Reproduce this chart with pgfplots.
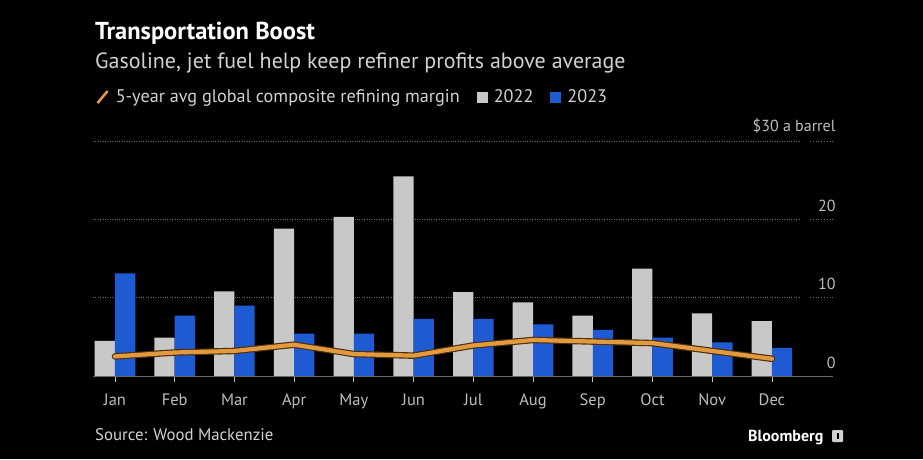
\documentclass[border=0pt]{standalone}
\usepackage{fontspec}
\setmainfont{PT Sans}
\usepackage{pgfplots}
\pgfplotsset{compat=1.18}
\definecolor{bgc}{HTML}{000000}
\definecolor{barg}{HTML}{C8C8C8}
\definecolor{barb}{HTML}{1E5AD2}
\definecolor{linec}{HTML}{E39A3E}
\definecolor{lineshadow}{HTML}{4A300F}
\definecolor{txtc}{HTML}{D2D2D2}
\definecolor{tickc}{HTML}{BDBDBD}
\definecolor{gridc}{HTML}{6A6A6A}
\begin{document}
\begin{tikzpicture}[x=1pt,y=1pt]
\fill[bgc] (0,0) rectangle (923,459);
\useasboundingbox (0,0) rectangle (923,459);
\node[anchor=base west, text=white, font=\bfseries\fontsize{24.5}{24.5}\selectfont, inner sep=0] at (95,419) {Transportation Boost};
\node[anchor=base west, text=txtc, font=\fontsize{22}{22}\selectfont, inner sep=0] at (95,391) {Gasoline, jet fuel help keep refiner profits above average};
\node[anchor=base west, text=txtc, font=\fontsize{16.8}{16.8}\selectfont, inner sep=0] at (95,19) {Source: Wood Mackenzie};
\node[anchor=base west, text=white, font=\bfseries\fontsize{16}{16}\selectfont, inner sep=0] at (748,18) {Bloomberg};
\fill[txtc, rounded corners=1pt] (832,17) rectangle (843,29);
\fill[bgc] (836.5,20) rectangle (838.5,26);
\begin{axis}[
  at={(93pt,83pt)}, anchor=south west,
  scale only axis, width=707pt, height=235pt,
  xmin=-0.368, xmax=11.47, ymin=0, ymax=30,
  axis line style={draw=none},
  ybar=0pt, bar width=20.3pt,
  xtick={0,1,2,3,4,5,6,7,8,9,10,11},
  xticklabels={Jan,Feb,Mar,Apr,May,Jun,Jul,Aug,Sep,Oct,Nov,Dec},
  xtick pos=bottom, tick align=outside, major tick length=6pt,
  x tick style={draw=tickc, line width=0.8pt},
  xticklabel style={text=tickc, font=\fontsize{16.5}{16.5}\selectfont, yshift=-8pt},
  ytick={0,10,20,30},
  yticklabels={0,10,20,{\$30 a barrel}},
  yticklabel pos=right,
  y tick style={draw=none},
  yticklabel style={anchor=south east, xshift=33pt, yshift=4pt, text=tickc, font=\fontsize{16}{16}\selectfont},
  ymajorgrids, grid style={dotted, gridc, line width=0.8pt},
  /pgf/number format/assume math mode=true,
  legend style={at={(axis description cs:-0.004,1.187)}, anchor=west, draw=none, fill=none,
    text=txtc, font=\fontsize{18.2}{18.2}\selectfont, inner sep=0pt,
    /tikz/every even column/.append style={column sep=15pt}},
  legend columns=-1,
  legend cell align=left,
]
\addlegendimage{legend image code/.code={\draw[linec, line width=2.5pt] (7pt,-6pt) -- (17pt,6pt); \path (0pt,0pt) (23pt,0pt);}}
\addlegendentry{5-year avg global composite refining margin}
\addplot[fill=barg, draw=none, legend image code/.code={\fill[barg] (0pt,-5.5pt) rectangle (11pt,5.5pt); \path (15pt,0pt);}]
  coordinates {(0,4.5) (1,4.9) (2,10.8) (3,18.8) (4,20.3) (5,25.5) (6,10.7) (7,9.4) (8,7.7) (9,13.7) (10,8.0) (11,7.0)};
\addlegendentry{2022}
\addplot[fill=barb, draw=none, legend image code/.code={\fill[barb] (0pt,-5.5pt) rectangle (11pt,5.5pt); \path (15pt,0pt);}]
  coordinates {(0,13.1) (1,7.7) (2,9.0) (3,5.4) (4,5.4) (5,7.3) (6,7.3) (7,6.6) (8,5.9) (9,4.9) (10,4.3) (11,3.6)};
\addlegendentry{2023}
\addplot[sharp plot, lineshadow, line width=6.5pt, line join=round, line cap=round, forget plot]
  coordinates {(0,2.5) (1,3.0) (2,3.2) (3,4.0) (4,2.8) (5,2.6) (6,3.9) (7,4.6) (8,4.4) (9,4.2) (10,3.2) (11,2.2)};
\addplot[sharp plot, linec, line width=4.2pt, line join=round, line cap=round, forget plot]
  coordinates {(0,2.5) (1,3.0) (2,3.2) (3,4.0) (4,2.8) (5,2.6) (6,3.9) (7,4.6) (8,4.4) (9,4.2) (10,3.2) (11,2.2)};
\end{axis}
\draw[gridc, line width=1pt] (93,83) -- (833,83);
\foreach \yy in {161.33,239.67,318} {\draw[dotted, gridc, line width=0.8pt] (810,\yy) -- (833,\yy);}
\end{tikzpicture}
\end{document}
